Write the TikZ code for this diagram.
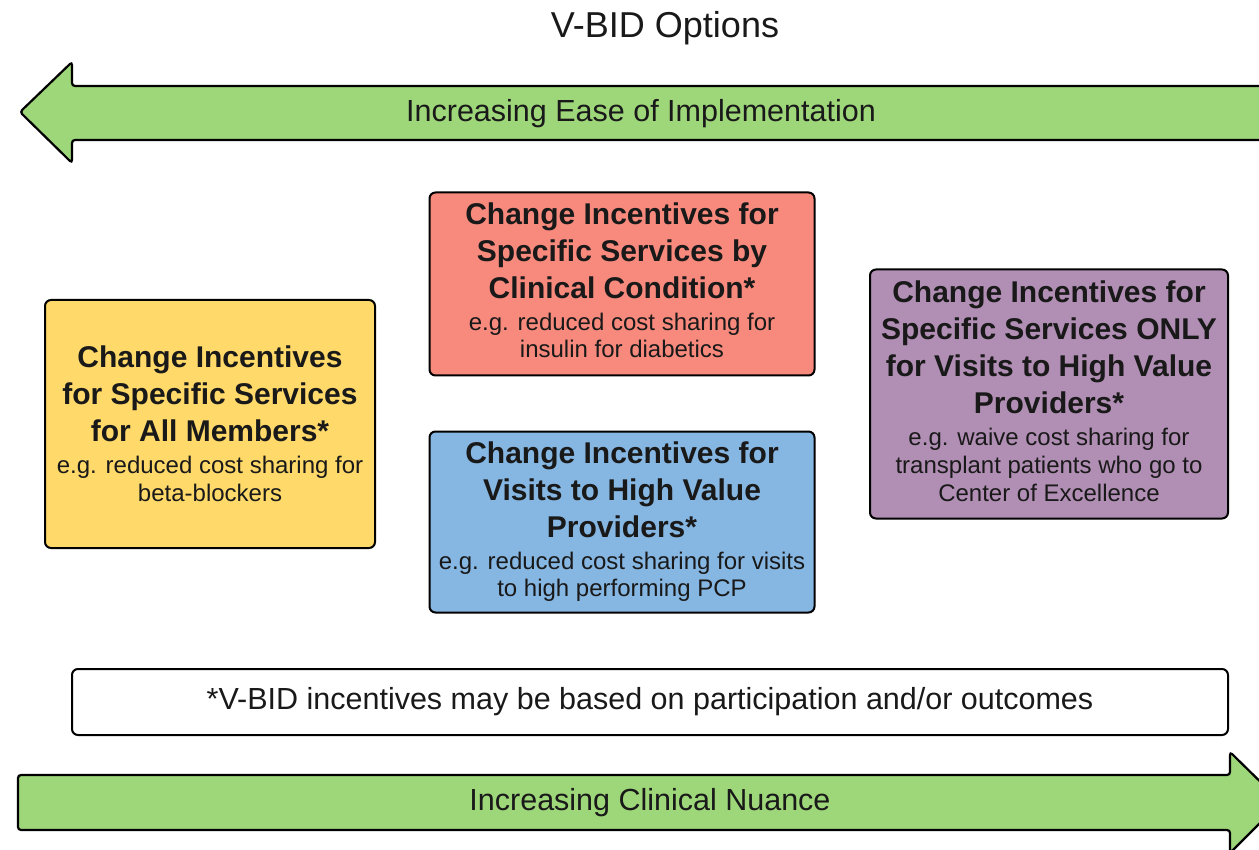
\documentclass[tikz,border=0pt]{standalone}
\usepackage{fontspec}
\setmainfont{Liberation Sans}
\begin{document}
\begin{tikzpicture}[x=1pt,y=-1pt,
  box/.style={draw=black, line width=2pt, rounded corners=6pt, inner sep=0pt, align=center, text=black!90,
    font=\fontsize{30}{37}\selectfont},
  arrowshape/.style={draw=black, line width=2.2pt, fill=arrowgreen, rounded corners=3pt},
  lbl/.style={font=\fontsize{30.5}{36}\selectfont, text=black!90},
]
\definecolor{arrowgreen}{HTML}{9ED67A}
\definecolor{yellowbox}{HTML}{FFD96A}
\definecolor{redbox}{HTML}{F78A7D}
\definecolor{bluebox}{HTML}{86B6E2}
\definecolor{purplebox}{HTML}{B18EB4}
\newcommand{\hd}[1]{\bfseries #1}
\newcommand{\sm}[1]{\fontsize{24}{28}\selectfont #1}
\useasboundingbox (0,0) rectangle (1259,850);
\clip (0,0) rectangle (1259,850);

% title
\node[font=\fontsize{36}{42}\selectfont, text=black!90] (title) at (665,28) {V-BID Options};

% top arrow (pointing left)
\draw[arrowshape] (1300,86) -- (72,86) -- (72,62) -- (20,112) -- (72,163) -- (72,140) -- (1300,140);
\node[lbl] (ease) at (641,114) {Increasing Ease of Implementation};

% bottom arrow (pointing right)
\draw[arrowshape] (18,775) -- (1230,775) -- (1230,752) -- (1281,802) -- (1230,853) -- (1230,830) -- (18,830) -- cycle;
\node[lbl] (nuance) at (650,803) {Increasing Clinical Nuance};

% boxes
\node[box, fill=yellowbox, minimum width=330pt, minimum height=248pt] (all) at (210,424)
  {\hd{Change Incentives}\\ \hd{for Specific Services}\\ \hd{for All Members*}\\[-5pt]
   \sm{e.g. reduced cost sharing for}\\[-9pt] \sm{beta-blockers}};

\node[box, fill=redbox, minimum width=385pt, minimum height=183pt] (cond) at (622,284)
  {\hd{Change Incentives for}\\ \hd{Specific Services by}\\ \hd{Clinical Condition*}\\[-5pt]
   \sm{e.g. reduced cost sharing for}\\[-10pt] \sm{insulin for diabetics}\\[-30pt]\mbox{}};

\node[box, fill=bluebox, minimum width=385pt, minimum height=181pt] (hv) at (622,522)
  {\hd{Change Incentives for}\\ \hd{Visits to High Value}\\ \hd{Providers*}\\[-5pt]
   \sm{e.g. reduced cost sharing for visits}\\[-10pt] \sm{to high performing PCP}};

\node[box, fill=purplebox, minimum width=358pt, minimum height=249pt] (only) at (1049,394)
  {\hd{Change Incentives for}\\ \hd{Specific Services ONLY}\\ \hd{for Visits to High Value}\\ \hd{Providers*}\\[-5pt]
   \sm{e.g. waive cost sharing for}\\[-9pt] \sm{transplant patients who go to}\\[-9pt] \sm{Center of Excellence}\\[-31pt]\mbox{}};

\node[box, fill=white, minimum width=1156pt, minimum height=66pt, font=\fontsize{30.5}{36}\selectfont] (note) at (650,702)
  {*V-BID incentives may be based on participation and/or outcomes};
\end{tikzpicture}
\end{document}
